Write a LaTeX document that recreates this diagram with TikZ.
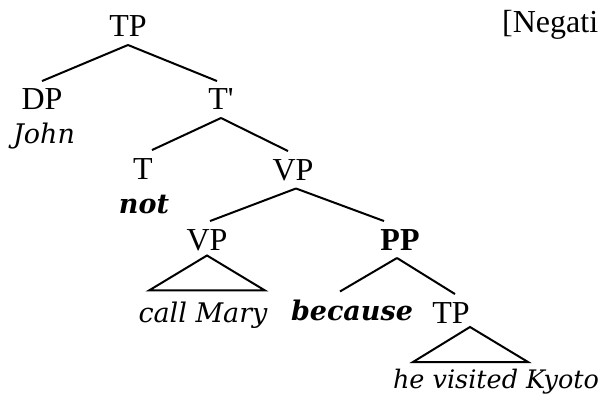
\documentclass[tikz,border=0pt]{standalone}
\usepackage{fontspec}
\setmainfont{Liberation Serif}[Ligatures=TeXOff]
\newfontfamily\wordfont{DejaVu Serif}
\tikzset{
  cat/.style={inner sep=0pt,outer ysep=8pt,anchor=base,text=black,
              font=\fontsize{32}{38}\selectfont},
  catbold/.style={cat,font=\fontsize{32}{38}\selectfont\bfseries},
  word/.style={inner sep=0pt,outer ysep=8pt,anchor=base,text=black,
               font=\wordfont\itshape\fontsize{27}{32}\selectfont},
  wordbold/.style={word,font=\wordfont\bfseries\itshape\fontsize{27}{32}\selectfont},
  branch/.style={draw=black,line width=2pt},
  roof/.style={branch,line join=miter},
  note/.style={inner sep=0pt,anchor=base west,font=\fontsize{32}{38}\selectfont},
}

\begin{document}
\begin{tikzpicture}[x=1pt,y=-1pt]
    \useasboundingbox (0,0) rectangle (603,396);

    % category labels
    \node[cat] (tp)  at (128,37)  {TP};
    \node[cat] (dp)  at (42,110)  {DP};
    \node[cat] (tbar) at (221,110) {T'};
    \node[cat] (t)   at (143,179) {T};
    \node[cat] (vpu) at (293,180) {VP};
    \node[cat] (vpl) at (207,250) {VP};
    \node[catbold] (pp) at (400,250) {PP};
    \node[cat] (tpl) at (451,323) {TP};

    % words
    \node[word] (john) at (44,143) {John};
    \node[wordbold] (neg) at (144,213) {not};
    \node[word] (cm) at (203,322) {call Mary};
    \node[wordbold] (bec) at (352,320) {because};
    \node[word,font=\wordfont\itshape\fontsize{25.5}{30}\selectfont] (hvk) at (496,388)
      {he visited Kyoto};

    \node[note] (lbl) at (502,33) {[Negati};

    % branches
    \draw[branch] (tp.south) -- (dp.north);
    \draw[branch] (tp.south) -- ([xshift=-4pt]tbar.north);
    \draw[branch] (tbar.south) -- ([xshift=9pt]t.north);
    \draw[branch] (tbar.south) -- ([xshift=-5pt]vpu.north);
    \draw[branch] ([xshift=3pt]vpu.south) -- ([xshift=3pt]vpl.north);
    \draw[branch] ([xshift=3pt]vpu.south) -- ([xshift=-16pt]pp.north);
    \draw[branch] ([xshift=-3pt]pp.south) -- ([xshift=-12pt]bec.north);
    \draw[branch] ([xshift=-3pt]pp.south) -- ([xshift=4pt]tpl.north);

    % roofs
    \draw[roof] ([yshift=3pt]vpl.south) -- ([xshift=-58pt,yshift=-32pt]vpl.south)
      -- ([xshift=58pt,yshift=-32pt]vpl.south) -- cycle;
    \draw[roof] ([xshift=19pt,yshift=4pt]tpl.south) -- ([xshift=-38pt,yshift=-31pt]tpl.south)
      -- ([xshift=77pt,yshift=-31pt]tpl.south) -- cycle;
\end{tikzpicture}
\end{document}
